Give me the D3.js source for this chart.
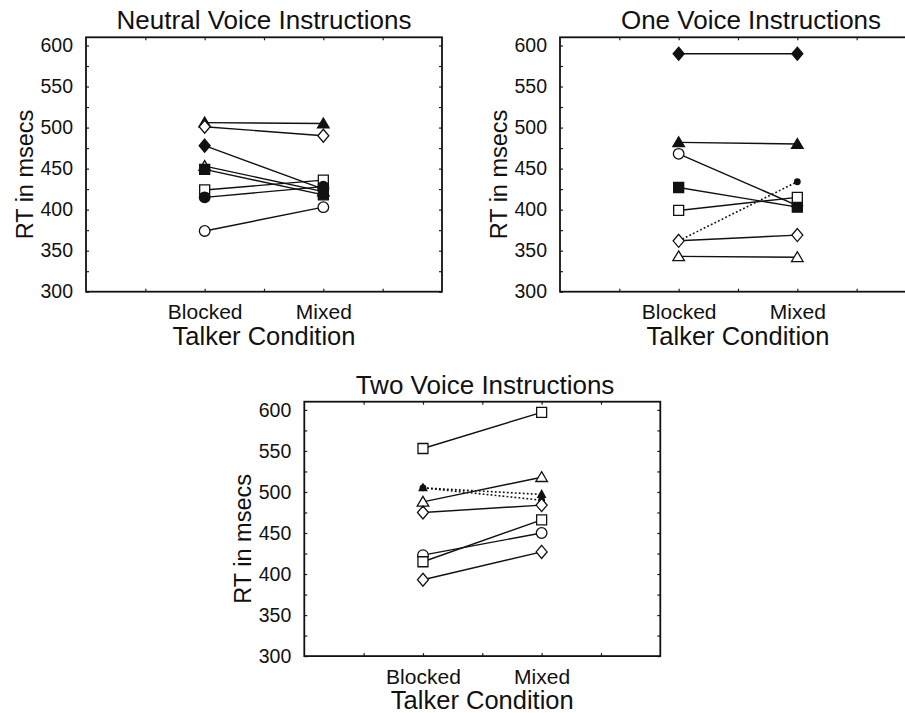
<!DOCTYPE html>
<html>
<head>
<meta charset="utf-8">
<script src="https://cdn.jsdelivr.net/npm/d3@7"></script>
<style>
  html, body { margin: 0; padding: 0; background: #fff; }
  svg { display: block; }
  text { font-family: "Liberation Sans", Arial, Helvetica, sans-serif; fill: #111; }
</style>
</head>
<body>
<svg id="chart" width="905" height="713"></svg>
<script>
// ---------------- data ----------------
const conditions = ["Blocked", "Mixed"];
const yTickValues = [300, 350, 400, 450, 500, 550, 600];
const panelTitles = ["Neutral Voice Instructions", "One Voice Instructions", "Two Voice Instructions"];
const xAxisTitle = "Talker Condition";
const yAxisTitle = "RT in msecs";

// Neutral voice instructions (one entry per participant line)
const neutralBlocked = [506, 501, 478, 453, 449, 424, 415, 374];
const neutralMixed   = [505, 490, 425, 422, 418, 436, 428, 403];
const neutralSymbols = ["triangleF", "diamondO", "diamondF", "triangleO", "squareF", "squareO", "circleF", "circleO"];
const neutralDotted  = [false, false, false, false, false, false, false, false];

// One voice instructions
const oneBlocked = [362, 590, 482, 468, 427, 399, 362, 343];
const oneMixed   = [434, 590, 480, 405, 403, 415, 369, 342];
const oneSymbols = ["dotF", "diamondF", "triangleF", "circleO", "squareF", "squareO", "diamondO", "triangleO"];
const oneDotted  = [true, false, false, false, false, false, false, false];

// Two voice instructions
const twoBlocked = [505, 505, 553, 488, 475, 423, 415, 393];
const twoMixed   = [497, 490, 597, 518, 484, 450, 466, 427];
const twoSymbols = ["smallTriF", "dotF", "squareO", "triangleO", "diamondO", "circleO", "squareO", "diamondO"];
const twoDotted  = [true, true, false, false, false, false, false, false];

const panels = [
  { title: panelTitles[0], blocked: neutralBlocked, mixed: neutralMixed, symbols: neutralSymbols, dotted: neutralDotted,
    left: 86, top: 37.3, titleX: 264 },
  { title: panelTitles[1], blocked: oneBlocked, mixed: oneMixed, symbols: oneSymbols, dotted: oneDotted,
    left: 560, top: 37.3, titleX: 751 },
  { title: panelTitles[2], blocked: twoBlocked, mixed: twoMixed, symbols: twoSymbols, dotted: twoDotted,
    left: 304.3, top: 401.7, titleX: 485 }
];

// ---------------- drawing ----------------
const svg = d3.select("#chart");
const W = 356, H = 254.4;
const catIndex = [2, 4]; // positions of Blocked / Mixed on a 0..6 frame

function symbolPath(kind) {
  switch (kind) {
    case "squareO": case "squareF": return "M-5,-5H5V5H-5Z";
    case "diamondO": case "diamondF": return "M0,-6.5L5.5,0L0,6.5L-5.5,0Z";
    case "triangleO": case "triangleF": return "M0,-5.5L5.8,4.3L-5.8,4.3Z";
    case "smallTriF": return "M0,-4L3.8,2.8L-3.8,2.8Z";
    default: return null;
  }
}

panels.forEach(p => {
  const g = svg.append("g").attr("transform", `translate(${p.left},${p.top})`);
  const x = d3.scaleLinear().domain([0, 6]).range([0, W]);
  const y = d3.scaleLinear().domain([300, 610]).range([H, 0]);

  // axes with inward ticks
  const minorY = d3.range(300, 601, 25);
  const yAxis = d3.axisLeft(y).tickValues(minorY).tickSize(-3).tickPadding(13)
    .tickFormat(d => yTickValues.includes(d) ? d : "");
  const gy = g.append("g").call(yAxis);
  const xAxis = d3.axisBottom(x).tickValues([1, 2, 3, 4, 5]).tickSize(-3).tickPadding(12.5)
    .tickFormat(d => d === catIndex[0] ? conditions[0] : d === catIndex[1] ? conditions[1] : "");
  const gx = g.append("g").attr("transform", `translate(0,${H})`).call(xAxis);
  const gt = g.append("g").call(d3.axisTop(x).tickValues([1, 2, 3, 4, 5]).tickSize(-3).tickFormat(""));
  const gr = g.append("g").attr("transform", `translate(${W},0)`)
    .call(d3.axisRight(y).tickValues(minorY).tickSize(-3).tickFormat(""));
  [gy, gx, gt, gr].forEach(a => {
    a.select(".domain").remove();
    a.selectAll(".tick line").attr("stroke", "#222").attr("stroke-width", 1.2);
  });
  gy.selectAll("text").style("font-size", "19.5px").attr("fill", "#111");
  gx.selectAll("text").style("font-size", "21px").attr("fill", "#111");

  // frame
  g.append("rect").attr("x", 0).attr("y", 0).attr("width", W).attr("height", H)
    .attr("fill", "none").attr("stroke", "#111").attr("stroke-width", 1.8);

  // lines
  const n = p.blocked.length;
  const series = d3.range(n).map(i => ({
    vals: [p.blocked[i], p.mixed[i]], sym: p.symbols[i], dotted: p.dotted[i]
  }));
  const line = d3.line().x((d, j) => x(catIndex[j])).y(d => y(d));
  g.selectAll("path.series").data(series).join("path")
    .attr("class", "series")
    .attr("d", s => line(s.vals))
    .attr("fill", "none")
    .attr("stroke", "#111")
    .attr("stroke-width", s => s.dotted ? 1.6 : 1.4)
    .attr("stroke-dasharray", s => s.dotted ? "1.8,2.2" : null);

  // markers
  series.forEach(s => {
    s.vals.forEach((v, j) => {
      const cx = x(catIndex[j]), cy = y(v);
      const filled = s.sym.endsWith("F");
      if (s.sym === "circleO" || s.sym === "circleF") {
        g.append("circle").attr("cx", cx).attr("cy", cy).attr("r", 5.3)
          .attr("fill", filled ? "#111" : "#fff").attr("stroke", "#111").attr("stroke-width", 1.3);
      } else if (s.sym === "dotF") {
        g.append("circle").attr("cx", cx).attr("cy", cy).attr("r", 3.4)
          .attr("fill", "#111").attr("stroke", "none");
      } else {
        g.append("path").attr("transform", `translate(${cx},${cy})`).attr("d", symbolPath(s.sym))
          .attr("fill", filled ? "#111" : "#fff").attr("stroke", "#111").attr("stroke-width", 1.3)
          .attr("stroke-linejoin", "miter");
      }
    });
  });

  // titles
  svg.append("text").attr("x", p.titleX).attr("y", p.top - 8.2)
    .attr("text-anchor", "middle").style("font-size", "26px").text(p.title);
  svg.append("text").attr("x", p.left + W / 2).attr("y", p.top + H + 53.3)
    .attr("text-anchor", "middle").style("font-size", "25.5px").text(xAxisTitle);
  svg.append("text")
    .attr("transform", `translate(${p.left - 53},${p.top + H / 2 + 10}) rotate(-90)`)
    .attr("text-anchor", "middle").style("font-size", "23.5px").text(yAxisTitle);
});
</script>
</body>
</html>
